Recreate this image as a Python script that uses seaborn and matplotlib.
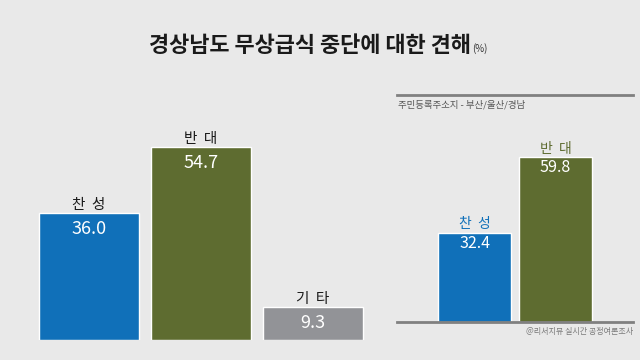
import numpy as np
import pandas as pd
import matplotlib
matplotlib.use("Agg")
import matplotlib.pyplot as plt
import seaborn as sns

# 데이터 (전체 / 주민등록주소지 부산·울산·경남)
cats_all = ["찬  성", "반  대", "기  타"]
vals_all = [36.0, 54.7, 9.3]
cats_local = ["찬  성", "반  대"]
vals_local = [32.4, 59.8]

BG = "#e9e9e9"
BLUE = "#1070b9"
GREEN = "#5e6c30"
GREY = "#929397"

sns.set_theme(style="white")
plt.rcParams["font.family"] = ["Noto Sans CJK KR", "DejaVu Sans"]

fig = plt.figure(figsize=(6.4, 3.6), dpi=100, facecolor=BG)
W, H = 640, 360


def px_axes(x0, y0, x1, y1):
    """픽셀 좌표(위에서부터)로 axes 생성"""
    return fig.add_axes([x0 / W, 1 - y1 / H, (x1 - x0) / W, (y1 - y0) / H])


# 제목
fig.text(310 / W, 1 - 46 / H, "경상남도 무상급식 중단에 대한 견해", ha="center", va="center",
         fontsize=15.8, fontweight="bold", color="#1a1a1a")
fig.text(472 / W, 1 - 49 / H, "(%)", ha="left", va="center", fontsize=7, color="#333333")

# 왼쪽 패널
ax1 = px_axes(33, 60, 369, 340)
df1 = pd.DataFrame({"cat": cats_all, "val": vals_all})
sns.barplot(data=df1, x="cat", y="val", hue="cat", palette=[BLUE, GREEN, GREY],
            legend=False, width=0.893, saturation=1, ax=ax1)
ax1.set_xlim(-0.5, 2.5)
ax1.set_ylim(0, 280 / 3.52)
for i, v in enumerate(vals_all):
    ax1.annotate(cats_all[i], (i, v), xytext=(0, 5.8), textcoords="offset points",
                 ha="center", va="center", fontsize=10.5, color="#1a1a1a")
    ax1.annotate(f"{v:.1f}", (i, v), xytext=(0, -11.5), textcoords="offset points",
                 ha="center", va="center", fontsize=13, color="white")

# 오른쪽 패널
ax2 = px_axes(397, 95, 633, 322)
df2 = pd.DataFrame({"cat": cats_local, "val": vals_local})
sns.barplot(data=df2, x="cat", y="val", hue="cat", palette=[BLUE, GREEN],
            legend=False, width=0.9, saturation=1, ax=ax2)
ax2.set_xlim(-(474.5 - 397) / 81, 1 + (633 - 555.5) / 81)
ax2.set_ylim(0, 227 / 2.755)
label_colors = [BLUE, GREEN]
for i, v in enumerate(vals_local):
    ax2.annotate(cats_local[i], (i, v), xytext=(0, 6), textcoords="offset points",
                 ha="center", va="center", fontsize=10, color=label_colors[i])
    ax2.annotate(f"{v:.1f}", (i, v), xytext=(0, -7.5), textcoords="offset points",
                 ha="center", va="center", fontsize=11.5, color="white")
ax2.text(0.005, 0.955, "주민등록주소지 - 부산/울산/경남", transform=ax2.transAxes,
         ha="left", va="center", fontsize=6.8, color="#555555")
ax2.text(1.0, -0.04, "@리서치뷰 실시간 공정여론조사", transform=ax2.transAxes,
         ha="right", va="center", fontsize=5.8, color="#7a7a7a")

for ax in (ax1, ax2):
    ax.set_facecolor(BG)
    ax.set_xlabel("")
    ax.set_ylabel("")
    ax.set_xticks([])
    ax.set_yticks([])
    for s in ax.spines.values():
        s.set_visible(False)

for s in ("top", "bottom"):
    ax2.spines[s].set_visible(True)
    ax2.spines[s].set_color("#808080")
    ax2.spines[s].set_linewidth(2)

fig.savefig("out.png", dpi=100, facecolor=BG)
